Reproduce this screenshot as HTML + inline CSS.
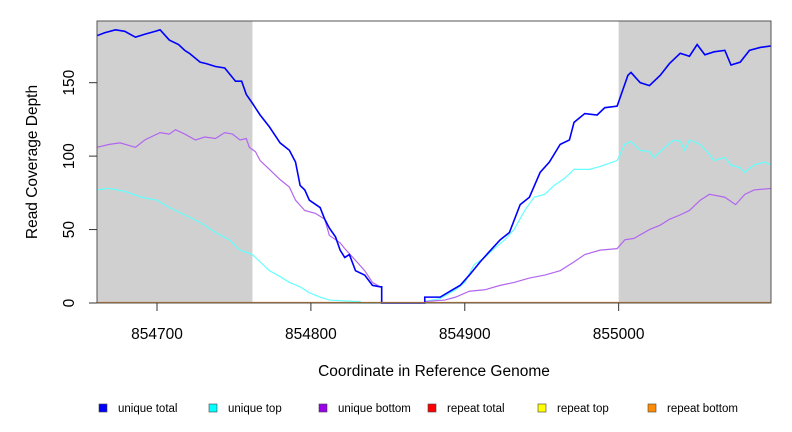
<!DOCTYPE html>
<html><head><meta charset="utf-8"><style>
body{margin:0;background:#fff}
svg{display:block;font-family:"Liberation Sans",Arial,sans-serif}
</style></head><body>
<svg id="chart" width="792" height="432"></svg>
<script>
const xTicks=[854700,854800,854900,855000];
const yTicks=[0,50,100,150];
const shadeRegions=[[854661,854762],[855000,855099]];
const totalPos=[854661,854666,854673,854679,854686,854692,854699,854702,854708,854714,854718,854721,854728,854732,854738,854744,854751,854755,854758,854762,854767,854773,854780,854786,854790,854793,854796,854799,854806,854809,854812,854816,854819,854822,854825,854829,854835,854840,854845,854846,854874,854884,854892,854897,854903,854910,854916,854923,854929,854936,854942,854949,854955,854962,854968,854971,854978,854986,854991,854999,855001,855006,855008,855014,855020,855027,855033,855040,855043,855046,855051,855056,855062,855069,855073,855079,855085,855092,855099];
const totalVal=[182,184,186,185,181,183,185,186,179,176,172,170,164,163,161,160,151,151,142,136,128,120,109,104,96,80,77,70,65,57,51,45,36,31,33,22,19,12,11,0,4,4,9,12,19,28,35,43,48,67,72,89,96,108,111,123,129,128,133,134,140,155,157,150,148,155,163,170,169,168,176,169,171,172,162,164,172,174,175];
const topPos=[854661,854669,854679,854690,854700,854708,854718,854728,854738,854747,854754,854762,854767,854773,854780,854786,854793,854799,854806,854812,854829,854832,854874,854884,854894,854900,854906,854913,854919,854926,854932,854939,854945,854952,854958,854965,854971,854981,854988,854999,855004,855008,855014,855020,855023,855030,855036,855040,855043,855046,855053,855059,855062,855069,855073,855079,855082,855088,855095,855099];
const topVal=[77,78,76,72,70,65,60,55,48,43,36,33,28,22,18,14,11,7,4,2,1,0,1,3,9,14,26,31,37,43,50,63,72,74,80,85,91,91,93,97,108,110,104,103,99,106,111,110,104,111,108,101,97,99,94,92,89,94,96,94];
const botPos=[854661,854669,854676,854686,854692,854702,854708,854712,854718,854725,854731,854738,854744,854749,854754,854758,854760,854764,854767,854773,854780,854786,854790,854796,854803,854809,854812,854819,854822,854829,854835,854840,854845,854846,854874,854887,854894,854903,854913,854923,854932,854942,854952,854962,854971,854978,854988,854999,855004,855010,855020,855027,855033,855040,855046,855053,855059,855069,855076,855082,855088,855099];
const botVal=[106,108,109,106,111,116,115,118,115,111,113,112,116,115,111,112,106,103,97,91,84,79,70,63,61,57,46,41,37,29,22,14,11,0,1,2,4,8,9,12,14,17,19,22,28,33,36,37,43,44,50,53,57,60,63,70,74,72,67,74,77,78];

const NS='http://www.w3.org/2000/svg';
const svg=document.getElementById('chart');
const L=97,R=771,T=21,B=303;
const X0=854661,X1=855099,Y0=0,Y1=192;
const sx=v=>L+(v-X0)/(X1-X0)*(R-L);
const sy=v=>B-(v-Y0)/(Y1-Y0)*(B-T);
function mk(tag,attrs,parent){const e=document.createElementNS(NS,tag);for(const k in attrs)e.setAttribute(k,attrs[k]);(parent||svg).appendChild(e);return e;}

shadeRegions.forEach((r,i)=>{
  const e=mk('rect',{x:sx(r[0]),y:T,width:sx(r[1])-sx(r[0]),height:B-T,fill:'#d0d0d0'});
  
  
});

function line(pos,val,color,w,name){
  let d='M'+sx(pos[0])+','+sy(val[0]);
  for(let i=1;i<pos.length;i++){
    if(val[i]===0||val[i-1]===0){d+='H'+sx(pos[i])+'V'+sy(val[i]);}
    else d+='L'+sx(pos[i])+','+sy(val[i]);
  }
  const p=mk('path',{d:d,fill:'none',stroke:color,'stroke-width':w,'stroke-linejoin':'miter'});
  
  
}
line(topPos,topVal,'#66ffff',1.2,'unique-top-line');
line(botPos,botVal,'#b266ee',1.2,'unique-bottom-line');
line(totalPos,totalVal,'#0000ff',1.6,'unique-total-line');
const zl=mk('line',{x1:L,x2:R,y1:B-0.5,y2:B-0.5,stroke:'#d27a1e','stroke-width':1.2});



const box=mk('rect',{x:L,y:T,width:R-L,height:B-T,fill:'none',stroke:'#555','stroke-width':1});



xTicks.forEach(t=>{
  const l=mk('line',{x1:sx(t),x2:sx(t),y1:B,y2:B+8,stroke:'#333'});
  
  
  const tx=mk('text',{x:sx(t),y:339,'text-anchor':'middle','font-size':15.5,fill:'#000'});
  tx.textContent=t;
  
  
});
yTicks.forEach(t=>{
  const l=mk('line',{x1:L-8,x2:L,y1:sy(t),y2:sy(t),stroke:'#333'});
  
  
  const tx=mk('text',{x:0,y:0,'text-anchor':'middle','font-size':15.5,fill:'#000',transform:'translate(74,'+sy(t)+') rotate(-90)'});
  tx.textContent=t;
  
  
});
const yt=mk('text',{x:0,y:0,'text-anchor':'middle','font-size':15.5,transform:'translate(37,162) rotate(-90)'});
yt.textContent='Read Coverage Depth';


const xt=mk('text',{x:434,y:376,'text-anchor':'middle','font-size':15.5});
xt.textContent='Coordinate in Reference Genome';



const legendLabels=['unique total','unique top','unique bottom','repeat total','repeat top','repeat bottom'];
const legendColors=['#0000ff','#00ffff','#9b00ee','#ff0000','#ffff00','#ff8c00'];
const legendX=[99,209,319,428,538,648];
legendLabels.forEach((lab,i)=>{
  const g=mk('g',{});
  
  
  mk('rect',{x:legendX[i],y:404,width:8,height:8,fill:legendColors[i],stroke:'#444','stroke-width':0.6},g);
  const t=mk('text',{x:legendX[i]+19,y:412,'font-size':11.5},g);
  t.textContent=lab;
});
</script>
</body></html>
